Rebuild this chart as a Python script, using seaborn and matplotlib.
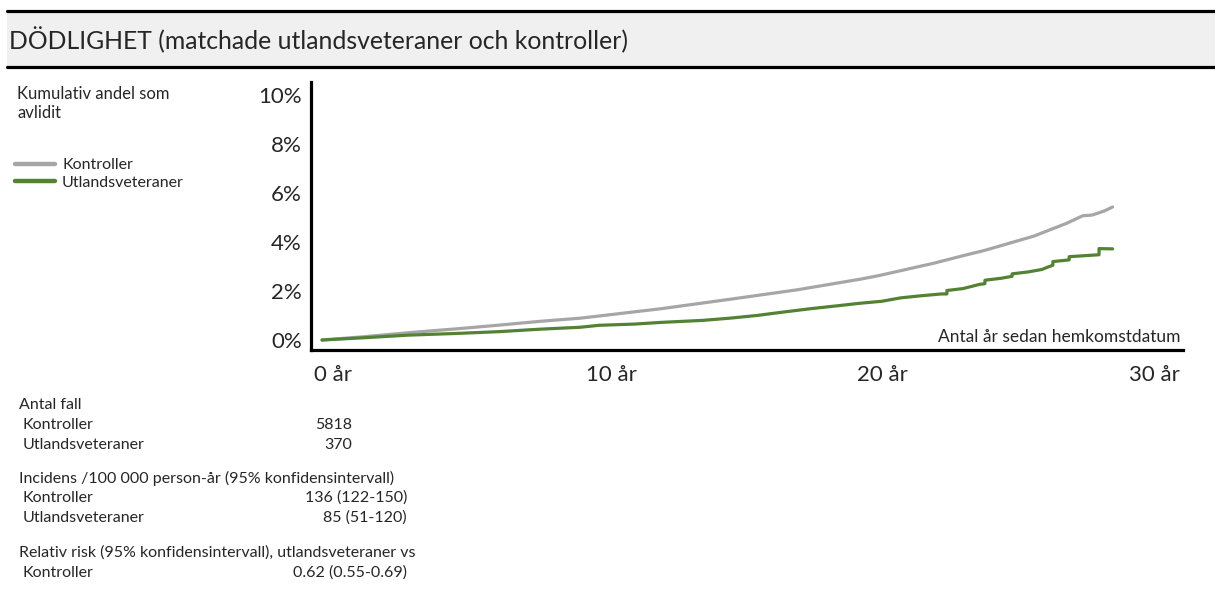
import numpy as np
import pandas as pd
import seaborn as sns
import matplotlib.pyplot as plt
from matplotlib import font_manager
from matplotlib.patches import Rectangle
from matplotlib.lines import Line2D
from matplotlib.transforms import ScaledTranslation

# cumulative share deceased (%), years since homecoming
years_ctrl = [0, 1.5, 3.2, 5, 6.55, 8, 9.5, 10.2, 12.5, 15, 17.5, 19.8, 20.5, 21.3,
              22.5, 23.7, 24.4, 25.3, 26.2, 27.4, 28.0, 28.35, 28.8, 29.1]
pct_ctrl = [0, 0.13, 0.30, 0.46, 0.61, 0.76, 0.89, 0.98, 1.28, 1.66, 2.05, 2.48, 2.63, 2.83,
            3.13, 3.47, 3.66, 3.95, 4.24, 4.76, 5.07, 5.10, 5.27, 5.43]

# veterans: smooth early part, visible Kaplan-Meier steps later (repeated x = vertical step)
years_vet = [0, 1.5, 3.2, 5, 6.5, 8, 9.5, 10.2, 11.5, 12.5, 14, 15, 16, 16.9, 18, 19,
             19.8, 20.6, 21.3, 22.0, 22.8, 23.0, 23.0, 23.6, 24.2, 24.4, 24.4, 25.0,
             25.4, 25.4, 26.0, 26.5, 26.7, 26.9, 26.9, 27.5, 27.5, 28.6, 28.6, 29.1]
pct_vet = [0, 0.09, 0.20, 0.27, 0.34, 0.44, 0.52, 0.60, 0.65, 0.72, 0.80, 0.89, 1.00, 1.13,
           1.28, 1.40, 1.50, 1.58, 1.72, 1.80, 1.88, 1.88, 2.02, 2.10, 2.27, 2.30, 2.44, 2.52,
           2.60, 2.70, 2.78, 2.88, 2.97, 3.05, 3.20, 3.27, 3.40, 3.48, 3.73, 3.72]

groups = ["Kontroller", "Utlandsveteraner"]
colors = ["#a6a6a6", "#548235"]

y_ticks = [0, 2, 4, 6, 8, 10]
x_ticks = [0, 10, 20, 30]

cases = ["5818", "370"]
incidence = ["136 (122-150)", "85 (51-120)"]
rel_risk = "0.62 (0.55-0.69)"

title = "DÖDLIGHET (matchade utlandsveteraner och kontroller)"

sns.set_style("white")
installed = {f.name for f in font_manager.fontManager.ttflist}
main_font = "Liberation Sans Narrow" if "Liberation Sans Narrow" in installed else "Lato"
plt.rcParams["font.family"] = [main_font, "DejaVu Sans"]

W, H = 1215, 592
fig = plt.figure(figsize=(W / 100, H / 100), dpi=100)


def fx(px):
    return px / W


def fy(py):
    return 1 - py / H


# title banner
fig.add_artist(Rectangle((fx(7), fy(67)), fx(W) - fx(7), fy(11) - fy(67),
                         transform=fig.transFigure, facecolor="#f0f0f0", edgecolor="none"))
for yy in (11, 67):
    fig.add_artist(Line2D([fx(7), 1], [fy(yy), fy(yy)], transform=fig.transFigure,
                          color="black", lw=2.3))
fig.text(fx(9), fy(40), title, fontsize=17.8, va="center", ha="left")

ax = fig.add_axes([fx(311), fy(350), (1183 - 311) / W, (350 - 82) / H])

df_ctrl = pd.DataFrame({"year": years_ctrl, "pct": pct_ctrl})
df_vet = pd.DataFrame({"year": years_vet, "pct": pct_vet})
sns.lineplot(data=df_ctrl, x="year", y="pct", color=colors[0], lw=2.3,
             label=groups[0], ax=ax, estimator=None)
sns.lineplot(data=df_vet, x="year", y="pct", color=colors[1], lw=2.3,
             label=groups[1], ax=ax, estimator=None)

ax.set_xlim(-0.405, 31.69)
ax.set_ylim(-0.408, 10.53)
ax.set_xticks(x_ticks)
ax.set_xticklabels([f"{t} år" for t in x_ticks])
ax.set_yticks(y_ticks)
ax.set_yticklabels([f"{t}%" for t in y_ticks])
ax.tick_params(axis="both", length=0, labelsize=16)
ax.tick_params(axis="y", pad=6.5)
ax.tick_params(axis="x", pad=11)
offset = ScaledTranslation(-8 / 100, 0, fig.dpi_scale_trans)
for lbl in ax.get_xticklabels():
    lbl.set_ha("left")
    lbl.set_transform(lbl.get_transform() + offset)
ax.set_xlabel("")
ax.set_ylabel("")
for side in ("top", "right"):
    ax.spines[side].set_visible(False)
for side in ("left", "bottom"):
    ax.spines[side].set_color("black")
    ax.spines[side].set_linewidth(2.3)

ax.text(1 - 2 / 872, (350 - 337) / 268, "Antal år sedan hemkomstdatum",
        transform=ax.transAxes, ha="right", va="center", fontsize=12.5)

sns.move_legend(ax, "upper left", bbox_to_anchor=(fx(15), fy(158)),
                bbox_transform=fig.transFigure, frameon=False, fontsize=11.5,
                handlelength=2.5, handletextpad=0.45, labelspacing=0.22,
                borderpad=0, borderaxespad=0)
for line in ax.get_legend().get_lines():
    line.set_linewidth(3.2)

fig.text(fx(17), fy(86), "Kumulativ andel som\navlidit", fontsize=12,
         va="top", ha="left", linespacing=1.2)

# statistics block
fs = 11.5
fig.text(fx(19), fy(405), "Antal fall", fontsize=fs, va="center")
for i, g in enumerate(groups):
    yy = 425 + 20 * i
    fig.text(fx(23), fy(yy), g, fontsize=fs, va="center")
    fig.text(fx(352), fy(yy), cases[i], fontsize=fs, va="center", ha="right")

fig.text(fx(19), fy(478), "Incidens /100 000 person-år (95% konfidensintervall)",
         fontsize=fs, va="center")
for i, g in enumerate(groups):
    yy = 498 + 20 * i
    fig.text(fx(23), fy(yy), g, fontsize=fs, va="center")
    fig.text(fx(407), fy(yy), incidence[i], fontsize=fs, va="center", ha="right")

fig.text(fx(19), fy(553), "Relativ risk (95% konfidensintervall), utlandsveteraner vs",
         fontsize=fs, va="center")
fig.text(fx(23), fy(573), groups[0], fontsize=fs, va="center")
fig.text(fx(407), fy(573), rel_risk, fontsize=fs, va="center", ha="right")

fig.savefig("out.png", dpi=100)
